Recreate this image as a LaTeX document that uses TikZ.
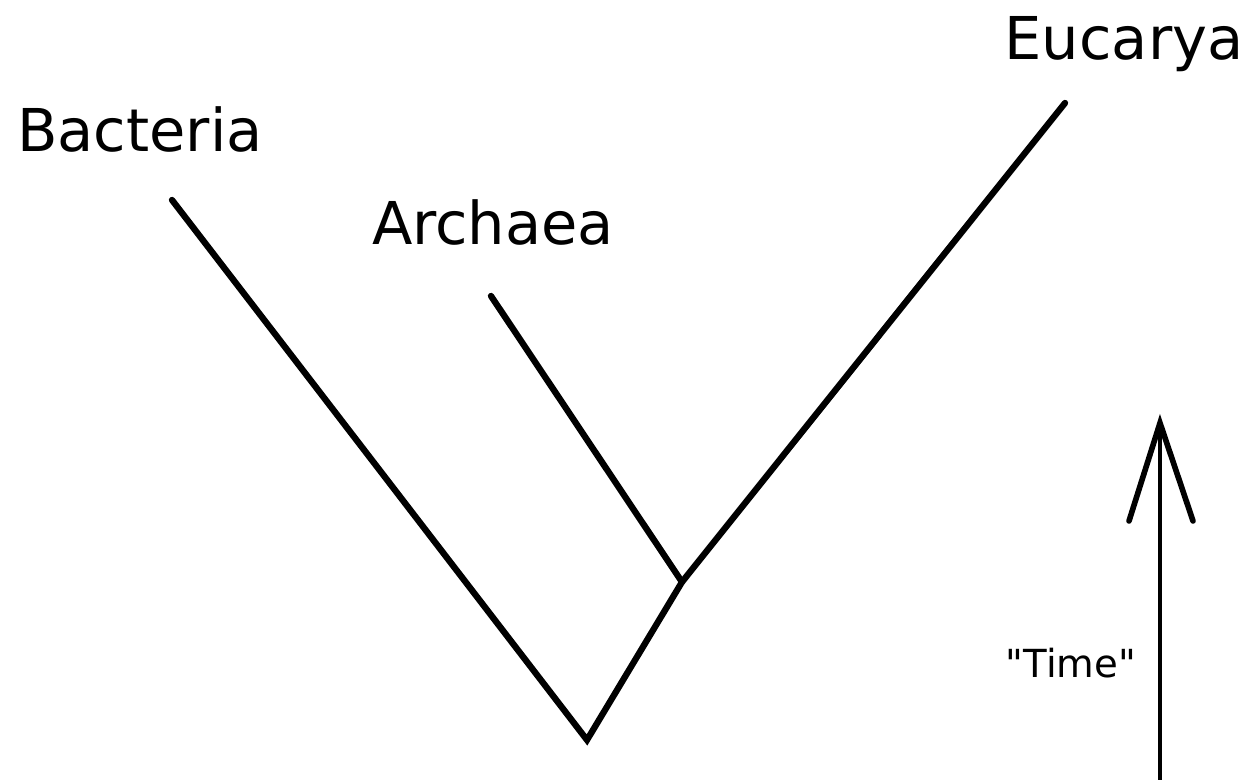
\documentclass[tikz,border=0pt]{standalone}
\usepackage{fontspec}
\setmainfont{DejaVu Sans}
\newfontfamily\timefont{DejaVu Sans}[Ligatures=ResetAll]
\usetikzlibrary{positioning}
\tikzset{every node/.style={inner sep=0pt},branch/.style={line width=3.6pt,line cap=round,line join=miter}}

\begin{document}
\begin{tikzpicture}[taxon/.style={font=\fontsize{33.6}{36}\selectfont,anchor=base},
 axis/.style={line width=2pt},head/.style={line width=3.2pt,line cap=round}]
\useasboundingbox (0,0) rectangle (25,15.6);
\node[taxon] (bac) at (2.8,12.56) {Bacteria};
\node[taxon] (arc) at (9.86,10.7) {Archaea};
\node[taxon] (euc) at (22.48,14.4) {Eucarya};
\coordinate (tb) at (3.44,11.6);
\coordinate (ta) at (9.82,9.68);
\coordinate (te) at (21.3,13.54);
\coordinate (root) at (11.74,0.8);
\coordinate (split) at (13.64,3.96);
\draw[branch] (tb)--(root)--(split)--(te);
\draw[branch] (ta)--(split);
% time axis
\coordinate (t0) at (23.2,-0.1);
\coordinate (t1) at (23.2,7.14);
\draw[axis] (t0)--(t1);
\draw[head] (22.58,5.18)--(t1)--(23.86,5.18);
\node[font=\timefont\fontsize{22}{24}\selectfont,anchor=base] (time) at (21.42,2.04) {"Time"};
\end{tikzpicture}
\end{document}
